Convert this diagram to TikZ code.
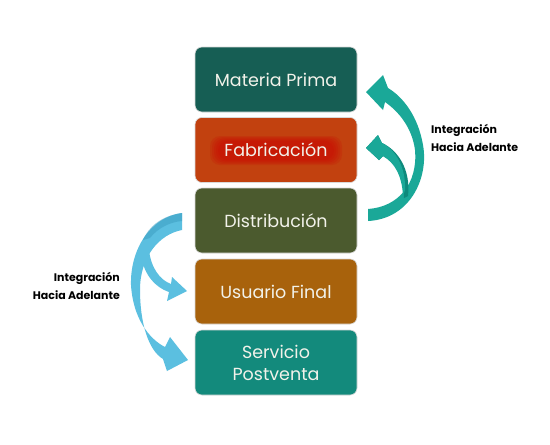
\documentclass[tikz,border=0pt]{standalone}
\usepackage{fontspec}
\setmainfont{Poppins}
\usetikzlibrary{shapes.misc}
\definecolor{cMat}{HTML}{165E54}
\definecolor{cFab}{HTML}{C2410F}
\definecolor{cDis}{HTML}{4B5A2E}
\definecolor{cUsu}{HTML}{A8620C}
\definecolor{cSer}{HTML}{138A7C}
\definecolor{cTeal}{HTML}{1AA898}
\definecolor{cTealD}{HTML}{0E8A7C}
\definecolor{cBlue}{HTML}{5BBFE0}
\definecolor{cBlueD}{HTML}{3A9CC0}
\definecolor{cTxt}{HTML}{F2F2EA}
\tikzset{
  stage/.style={rounded corners=7pt, minimum width=162pt, minimum height=65pt,
    text=cTxt, font=\fontsize{17.5}{22}\selectfont, align=center, inner sep=0pt,
    draw=black!15, line width=0.6pt},
  lbl/.style={font=\bfseries\fontsize{11}{16}\selectfont, text=black, inner sep=0pt},
  glow/.style={fill=red!80!black, opacity=0.16}
}
\begin{document}
\begin{tikzpicture}[x=1pt,y=-1pt]
\useasboundingbox (0,0) rectangle (550,445);
\fill[white] (0,0) rectangle (550,445);

\node[stage, fill=cMat] (mat) at (276,79.5) {Materia Prima};
\node[stage, fill=cFab] (fab) at (276,150) {};
\foreach \d in {0,2,4,6,8}{
  \fill[glow, rounded corners=10pt] (210+\d,136+\d*0.6) rectangle (342-\d,165-\d*0.6);
}
\node[text=cTxt, font=\fontsize{17.5}{22}\selectfont] (fabt) at (fab) {Fabricación};
\node[stage, fill=cDis] (dis) at (276,220.5) {Distribución};
\node[stage, fill=cUsu] (usu) at (276,291.5) {Usuario Final};
\node[stage, fill=cSer] (ser) at (276,362.5) {Servicio\\Postventa};

% right arrows (teal)
\fill[cTeal] (368,221) .. controls (410,219) and (429,178) .. (423,145)
  .. controls (418,116) and (403,97) .. (388,88) -- (383,75) -- (366,92) -- (383,110)
  -- (385,102) .. controls (398,111) and (412,127) .. (415,150)
  .. controls (418,184) and (398,207) .. (368,209) -- cycle;
\fill[cTealD] (382,143) .. controls (398,150) and (411,170) .. (408,196)
  -- (404,198) .. controls (403,176) and (396,163) .. (383,156)
  -- (379,160) -- (366,148) -- (378,135) -- cycle;
\fill[cTeal] (382,143) .. controls (396,150) and (406,168) .. (405,190)
  -- (403,196) .. controls (402,176) and (395,163) .. (383,156)
  -- (379,160) -- (366,148) -- (378,135) -- cycle;

% left arrows (blue)
\fill[cBlue] (182,213) .. controls (150,217) and (130,250) .. (131,285)
  .. controls (133,318) and (149,339) .. (165,347) -- (170,337) -- (188,360) -- (167,371)
  -- (163,359) .. controls (148,350) and (140,322) .. (140,290)
  .. controls (140,256) and (160,234) .. (182,230) -- cycle;
\fill[cBlueD, opacity=0.5] (182,213) .. controls (160,216) and (148,228) .. (143,240)
  -- (150,238) .. controls (158,228) and (170,222) .. (182,221) -- cycle;
\fill[cBlue] (141,252) .. controls (142,272) and (154,287) .. (169,292) -- (167,301)
  -- (187,291) -- (172,277) -- (171,284) .. controls (160,280) and (151,268) .. (149,250) -- cycle;

% labels
\node[lbl, anchor=west] (rl1) at (431,130) {Integración};
\node[lbl, anchor=west] (rl2) at (431,147) {Hacia Adelante};
\node[lbl, anchor=east] (ll1) at (120,278) {Integración};
\node[lbl, anchor=east] (ll2) at (120,295) {Hacia Adelante};
\end{tikzpicture}
\end{document}
